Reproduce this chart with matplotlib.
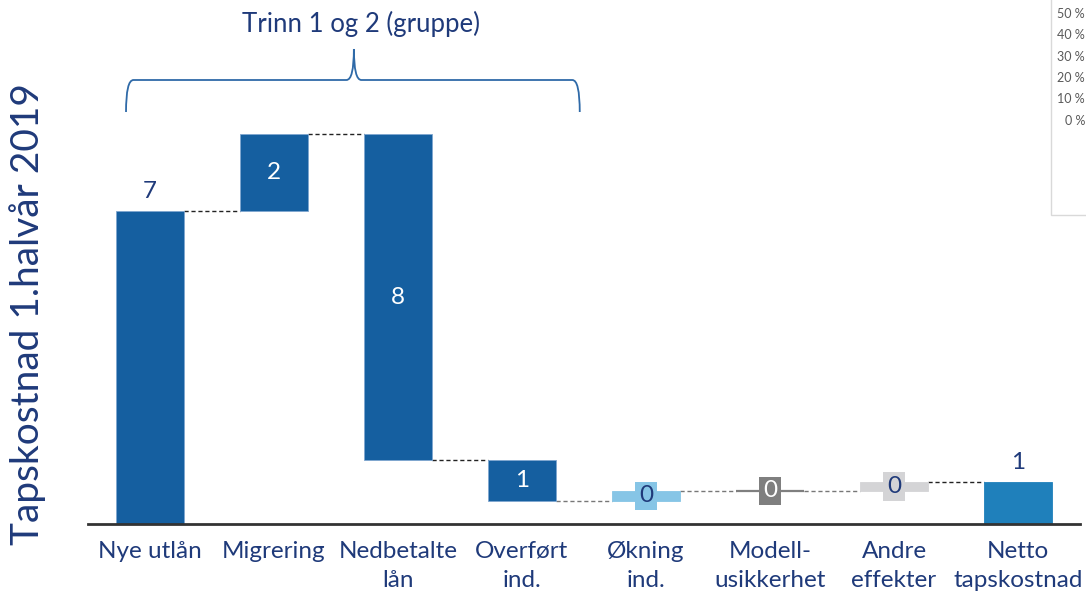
import matplotlib
matplotlib.use("Agg")
import matplotlib.pyplot as plt
from matplotlib.patches import Rectangle
from matplotlib.path import Path
from matplotlib.patches import PathPatch

# ---- data ----
categories = ["Nye utlån", "Migrering", "Nedbetalte\nlån", "Overført\nind.",
              "Økning\nind.", "Modell-\nusikkerhet", "Andre\neffekter", "Netto\ntapskostnad"]
changes = [7.30, 1.78, -7.59, -0.95, 0.23, 0.0, 0.21]   # waterfall steps
net_total = 0.98
value_labels = ["7", "2", "8", "1", "0", "0", "0", "1"]
ylabel = "Tapskostnad 1.halvår 2019"
group_title = "Trinn 1 og 2 (gruppe)"
side_ticks = ["50 %", "40 %", "30 %", "20 %", "10 %", "0 %"]

# ---- styles ----
W, H, DPI = 1086, 596, 100
NAVY = "#1f3a7a"
bar_colors = ["#155fa0", "#155fa0", "#155fa0", "#155fa0",
              "#86c5e6", "#7f7f7f", "#d4d4d6", "#1f80bb"]
label_colors = [NAVY, "white", "white", "white", NAVY, "white", NAVY, NAVY]
label_inside = [False, True, True, True, True, True, True, False]
conn_colors = ["#222222", "#222222", "#222222", "#777777", "#777777", "#777777", "#222222"]
FONT = "Lato"
bw = 0.556

fig = plt.figure(figsize=(W / DPI, H / DPI), dpi=DPI)
ax_left, ax_right, ax_bottom = 88 / W, 1080 / W, (H - 524) / H
ax = fig.add_axes([ax_left, ax_bottom, ax_right - ax_left, 1 - ax_bottom])
ymax = 524 / 42.9
ax.set_xlim(-0.5, 7.5)
ax.set_ylim(0, ymax)

# compute bottoms/heights
bottoms, heights, ends = [], [], []
level = 0.0
for c in changes:
    start = level
    level += c
    bottoms.append(min(start, level))
    heights.append(abs(c))
    ends.append(level)
bottoms.append(0.0)
heights.append(net_total)
ends.append(net_total)

x = list(range(len(categories)))
for i in x:
    if heights[i] > 0:
        ax.bar(i, heights[i], bottom=bottoms[i], width=bw, color=bar_colors[i],
               edgecolor="#7fa6cf" if i < 4 else bar_colors[i], linewidth=0.6, zorder=2)
    else:
        ax.plot([i - bw / 2, i + bw / 2], [bottoms[i]] * 2, color=bar_colors[i],
                lw=1.6, zorder=2, solid_capstyle="butt")

# connectors
for i in range(len(categories) - 1):
    ax.plot([i + bw / 2, i + 1 - bw / 2], [ends[i], ends[i]], color=conn_colors[i],
            lw=1.0, ls=(0, (3, 2)), zorder=1)

# value labels
for i in x:
    if label_inside[i]:
        yc = bottoms[i] + heights[i] / 2
        kw = {}
        if i >= 4:
            kw["bbox"] = dict(boxstyle="square,pad=0.15", fc=bar_colors[i], ec="none")
        ax.text(i, yc, value_labels[i], ha="center", va="center", color=label_colors[i],
                fontsize=17.5, family=FONT, zorder=4, **kw)
    else:
        ax.text(i, bottoms[i] + heights[i] + 0.2, value_labels[i], ha="center", va="bottom",
                color=label_colors[i], fontsize=17.5, family=FONT, zorder=4)

# axes styling
for s in ["top", "right", "left"]:
    ax.spines[s].set_visible(False)
ax.spines["bottom"].set_color("#333333")
ax.spines["bottom"].set_linewidth(2)
ax.set_yticks([])
ax.set_xticks(x)
ax.set_xticklabels(categories, fontsize=17.5, family=FONT, color=NAVY, linespacing=1.5)
ax.tick_params(axis="x", length=0, pad=12)

fig.text(28 / W, (H - 314) / H, ylabel, rotation=90, ha="center", va="center",
         fontsize=28, family=FONT, color=NAVY)

# brace annotation
def px2x(px):
    return (px - 150) / 124.07
def py2y(py):
    return (524 - py) / 42.9
xl, xr, xc = px2x(126), px2x(580), px2x(354)
yb, yh, yt = py2y(112), py2y(80), py2y(49)
dx = 0.06
verts = [(xl, yb), (xl, yh), (xl + dx, yh),
         (xc - dx, yh), (xc, yh), (xc, yt),
         (xc, yh), (xc + dx, yh),
         (xr - dx, yh), (xr, yh), (xr, yb)]
codes = [Path.MOVETO, Path.CURVE3, Path.CURVE3,
         Path.LINETO, Path.CURVE3, Path.CURVE3,
         Path.CURVE3, Path.CURVE3,
         Path.LINETO, Path.CURVE3, Path.CURVE3]
ax.add_patch(PathPatch(Path(verts, codes), fc="none", ec="#2f6aa8", lw=1.3, clip_on=False))
ax.text(px2x(361), py2y(24), group_title, ha="center", va="center", fontsize=18.5,
        family=FONT, color=NAVY)

# cropped neighbouring chart at top right
fig.patches.append(Rectangle((1051 / W, (H - 215) / H), 60 / W, 230 / H,
                             transform=fig.transFigure, fc="white", ec="#d9d9d9", lw=1))
for k, t in enumerate(side_ticks):
    fig.text(1085 / W, (H - (14 + 21.3 * k)) / H, t, ha="right", va="center",
             fontsize=9, color="#595959", family="Lato")

fig.savefig("out.png", dpi=DPI)
